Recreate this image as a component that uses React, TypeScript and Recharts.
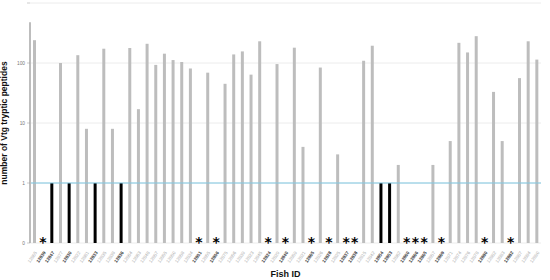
import React from 'react';
import {
  ComposedChart,
  Bar,
  Scatter,
  XAxis,
  YAxis,
  CartesianGrid,
  ReferenceLine,
  Cell,
} from 'recharts';

// --- Fish IDs (x categories) ---
const fishIds = [
  '12805', '12839', '12847', '12877', '12830', '12822', '12881', '12833', '12835', '12838',
  '12836', '12864', '12863', '12848', '12857', '12855', '12850', '12858', '12834', '12801',
  '12855', '12806', '12875', '12856', '12839', '12823', '12845', '12824', '12829', '12840',
  '12859', '12821', '12865', '12826', '12828', '12825', '12837', '12838', '12815', '12842',
  '12854', '12853', '12862', '12860', '12866', '12865', '12857', '12869', '12871', '12874',
  '12876', '12878', '12880', '12882', '12883', '12882', '12887', '12884', '12890',
];

// number of Vtg tryptic peptides per fish
const peptideCounts = [
  240, 0, 1, 100, 1, 135, 8, 1, 173, 8,
  1, 178, 17, 209, 93, 143, 112, 104, 81, 0,
  69, 0, 45, 139, 156, 64, 230, 0, 96, 0,
  180, 4, 0, 84, 0, 3, 0, 0, 109, 194,
  1, 1, 2, 0, 0, 0, 2, 0, 5, 217,
  150, 280, 0, 33, 5, 0, 56, 230, 114,
];

const yTickValues = [0, 1, 2, 3, 4];
const yTickLabels = ['0', '1', '10', '100', ''];

// 0 sits one decade below 1 (log axis with a zero floor)
const toAxis = (v: number) => (v > 0 ? Math.log10(v) + 1 : 0);

const data = fishIds.map((id, i) => ({
  idx: i,
  id,
  count: peptideCounts[i],
  value: toAxis(peptideCounts[i]),
  zero: peptideCounts[i] === 0 ? 0 : null,
}));

const barColor = (c: number) => (c === 1 ? '#000000' : '#bdbdbd');
const isBold = (c: number) => c <= 1;

const FishTick = (props: any) => {
  const { x, y, payload } = props;
  const row = data[payload.value];
  if (!row) return null;
  const bold = isBold(row.count);
  return (
    <g transform={`translate(${x + 2},${y + 1})`}>
      <text
        transform="rotate(-55)"
        textAnchor="end"
        dominantBaseline="middle"
        fontSize={4.6}
        fontWeight={bold ? 700 : 400}
        fill={bold ? '#333' : '#aaa'}
        fontFamily="Liberation Sans, Arial, sans-serif"
      >
        {row.id}
      </text>
    </g>
  );
};

const Star = (props: any) => {
  const { cx, cy } = props;
  if (cx == null || cy == null) return null;
  return (
    <text
      x={cx}
      y={cy + 4}
      textAnchor="middle"
      fontSize={14}
      fontWeight={700}
      fill="#000"
      fontFamily="DejaVu Sans, sans-serif"
    >
      *
    </text>
  );
};

export default function App() {
  return (
    <div style={{ position: 'absolute', left: 0, top: 0, width: 550, height: 280, background: '#fff' }}>
      <ComposedChart
        width={550}
        height={280}
        data={data}
        margin={{ top: 3, right: 9, left: 0, bottom: 0 }}
      >
        <CartesianGrid vertical={false} stroke="#ececec" strokeWidth={1} />
        <XAxis
          dataKey="idx"
          type="number"
          domain={[-0.5, fishIds.length - 0.5]}
          ticks={data.map((d) => d.idx)}
          interval={0}
          axisLine={false}
          tickLine={false}
          tick={<FishTick />}
          height={37}
          label={{
            value: 'Fish ID',
            position: 'insideBottom',
            offset: 3,
            fontSize: 9,
            fontWeight: 700,
            fill: '#111',
            fontFamily: 'Liberation Sans, Arial, sans-serif',
          }}
        />
        <YAxis
          type="number"
          domain={[0, 4]}
          ticks={yTickValues}
          tickFormatter={(v: number) => yTickLabels[yTickValues.indexOf(v)] ?? ''}
          axisLine={false}
          tickLine={{ stroke: '#999', strokeWidth: 0.5 }}
          tickSize={3}
          width={30}
          tick={{ fontSize: 4.8, fill: '#777', fontFamily: 'Liberation Sans, Arial, sans-serif' }}
          label={{
            value: 'number of Vtg tryptic peptides',
            angle: -90,
            position: 'insideLeft',
            offset: 4,
            dy: 0,
            fontSize: 8.5,
            fontWeight: 700,
            fill: '#111',
            fontFamily: 'Liberation Sans, Arial, sans-serif',
            style: { textAnchor: 'middle' },
          }}
        />
        <ReferenceLine y={1} stroke="#7ec8e3" strokeWidth={1} />
        <ReferenceLine
          segment={[{ x: -0.5, y: 0 }, { x: -0.5, y: 3.68 }]}
          stroke="#bdbdbd"
          strokeWidth={2}
        />
        <Bar dataKey="value" barSize={3} isAnimationActive={false}>
          {data.map((d, i) => (
            <Cell key={`c-${i}`} fill={barColor(d.count)} />
          ))}
        </Bar>
        <Scatter dataKey="zero" shape={<Star />} isAnimationActive={false} />
      </ComposedChart>
    </div>
  );
}
